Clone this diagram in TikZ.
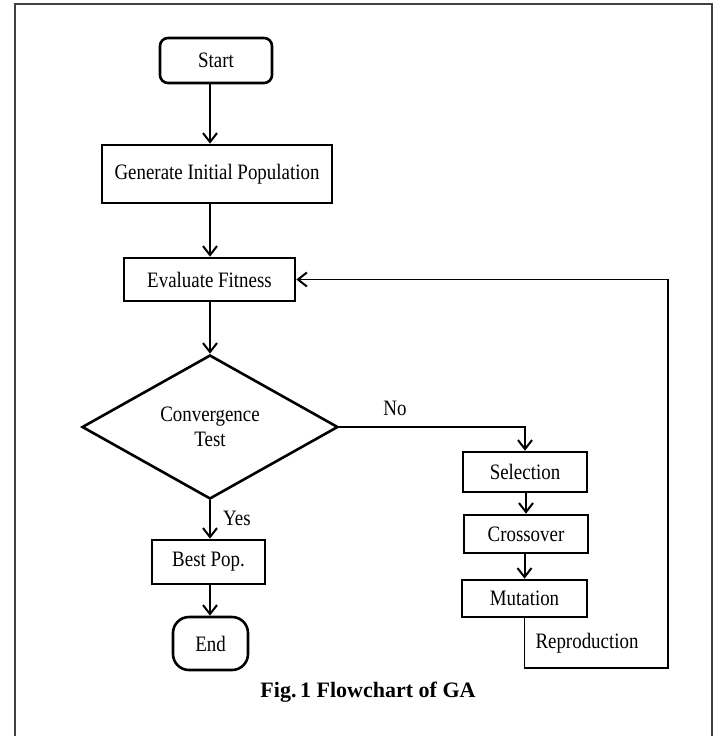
\documentclass[tikz,border=0pt]{standalone}
\usepackage{fontspec}
\setmainfont[FakeStretch=0.86]{Liberation Serif}
\newfontfamily\capfont{Liberation Serif}
\usetikzlibrary{shapes.geometric,arrows.meta}
\begin{document}
\begin{tikzpicture}[x=1pt,y=-1pt,
  every node/.style={font=\fontsize{22}{25}\selectfont},
  box/.style={draw, line width=2.6pt, rectangle, inner sep=0pt, align=center},
  termbox/.style={box, rounded corners=8pt},
  endbox/.style={box, rounded corners=16pt},
  decbox/.style={draw, line width=2.6pt, diamond, aspect=1.78, inner sep=0pt, align=center},
  arr/.style={line width=2pt, -{Straight Barb[length=9pt,width=14pt]}},
  looparr/.style={line width=1.6pt, -{Straight Barb[length=9pt,width=14pt,line width=2pt]}},
  lbl/.style={inner sep=0pt}
]
\useasboundingbox (0,0) rectangle (725,736);
\fill[white] (0,0) rectangle (725,736);
% outer frame (open at the bottom)
\draw[line width=2pt, black!75] (15,740) -- (15,4) -- (712,4) -- (712,740);

\node[termbox, minimum width=112pt, minimum height=45pt] (start) at (216,60.5) {Start};
\node[box, minimum width=230pt, minimum height=58pt] (gen) at (217,174) {Generate Initial Population};
\node[box, minimum width=171pt, minimum height=43pt] (eval) at (209.5,279.5) {Evaluate Fitness};
\node[decbox, minimum width=256pt, minimum height=144pt] (conv) at (210,427) {Convergence\\Test};
\node[box, minimum width=113pt, minimum height=44pt] (best) at (208.5,562) {Best Pop.};
\node[endbox, minimum width=75pt, minimum height=53pt] (end) at (210.5,643.5) {End};
\node[box, minimum width=124pt, minimum height=40pt] (sel) at (525,472) {Selection};
\node[box, minimum width=124pt, minimum height=38pt] (cross) at (526,534) {Crossover};
\node[box, minimum width=125pt, minimum height=37pt] (mut) at (524.5,598.5) {Mutation};

\coordinate (loopcorner) at (668,668);

\draw[arr] (start.south -| conv.north) -- (gen.north -| conv.north);
\draw[arr] (gen.south -| conv.north) -- (eval.north -| conv.north);
\draw[arr] (eval.south -| conv.north) -- (conv.north);
\draw[arr] (conv.south) -- (best.north -| conv.south);
\draw[arr] (best.south -| conv.south) -- (end.north -| conv.south);
\draw[arr] (conv.east) -| (sel.north);
\draw[arr] (sel.south -| cross.north) -- (cross.north);
\draw[arr] (cross.south -| mut.north) -- (mut.north);
\draw[looparr] (mut.south) |- (loopcorner) |- (eval.east);

\node[lbl, anchor=base] (no) at (395,415) {No};
\node[lbl, anchor=base west] (yes) at (223,525) {Yes};
\node[lbl, anchor=base] (repro) at (587,648) {Reproduction};
\node[lbl, anchor=base, font=\capfont\bfseries\fontsize{22}{26}\selectfont] (cap) at (368,697) {Fig.\,1 Flowchart of GA};
\end{tikzpicture}
\end{document}
